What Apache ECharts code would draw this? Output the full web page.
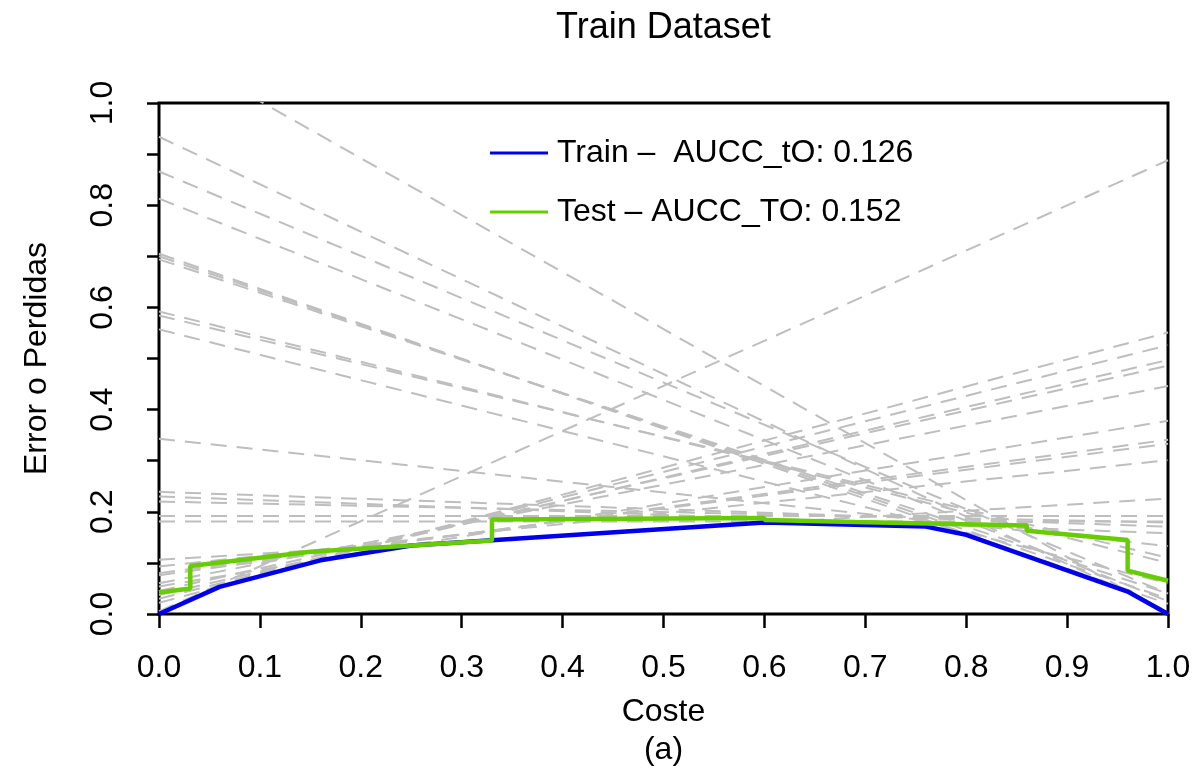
<!DOCTYPE html>
<html>
<head>
<meta charset="utf-8">
<script src="https://cdn.jsdelivr.net/npm/echarts@6/dist/echarts.min.js"></script>
<style>
  html, body { margin: 0; padding: 0; background: #fff; }
  #chart { width: 1197px; height: 768px; }
</style>
</head>
<body>
<div id="chart"></div>
<script>
// Cost lines of the individual classifiers: error at cost 0 and at cost 1
const costLineStart = [1.115, 0.934, 0.866, 0.813, 0.705, 0.700, 0.694, 0.592, 0.584, 0.557,
                       0.343, 0.239, 0.230, 0.220, 0.192, 0.181,
                       0.005, 0.022, 0.030, 0.037, 0.045, 0.060, 0.054, 0.076, 0.080, 0.093, 0.106];
const costLineEnd   = [0.000, 0.005, 0.040, 0.025, 0.020, 0.030, 0.040, 0.100, 0.110, 0.060,
                       0.133, 0.171, 0.158, 0.179, 0.192, 0.181,
                       0.888, 0.551, 0.526, 0.497, 0.486, 0.446, 0.378, 0.341, 0.333, 0.301, 0.226];

// Lower envelope on the training set
const trainCost  = [0.00, 0.06, 0.16, 0.25, 0.60, 0.76, 0.80, 0.96, 1.00];
const trainError = [0.000, 0.053, 0.105, 0.134, 0.179, 0.171, 0.155, 0.044, 0.000];

// Expected cost on the test set (step changes where the chosen classifier switches)
const testCost  = [0.00, 0.031, 0.031, 0.15, 0.15, 0.33, 0.33, 0.60, 0.60, 0.69, 0.69, 0.86, 0.86, 0.96, 0.96, 1.00];
const testError = [0.042, 0.050, 0.094, 0.122, 0.125, 0.144, 0.185, 0.188, 0.184, 0.180, 0.182, 0.173, 0.163, 0.145, 0.085, 0.065];

const trainName = 'Train \u2013  AUCC_tO: 0.126';
const testName  = 'Test \u2013 AUCC_TO: 0.152';
const xTicks = [0, 1, 0.1];
const yTicks = [0, 1, 0.1];

const font = 'Liberation Sans, Arial, Helvetica, sans-serif';

// plot area in pixels
const plotLeft = 159, plotRight = 29, plotTop = 103, plotBottom = 154;
const plotCenterX = plotLeft + (1197 - plotLeft - plotRight) / 2;

const series = [];
costLineStart.forEach((s, i) => {
  series.push({
    type: 'line',
    name: 'cost' + i,
    data: [[0, s], [1, costLineEnd[i]]],
    symbol: 'none',
    silent: true,
    clip: true,
    lineStyle: { color: '#BEBEBE', width: 2, type: [16, 10] },
    z: 1
  });
});
series.push({
  type: 'line',
  name: trainName,
  data: trainCost.map((c, i) => [c, trainError[i]]),
  symbol: 'none',
  color: '#0000EE',
  lineStyle: { color: '#0000EE', width: 4.5 },
  z: 3
});
series.push({
  type: 'line',
  name: testName,
  data: testCost.map((c, i) => [c, testError[i]]),
  symbol: 'none',
  color: '#66CD00',
  lineStyle: { color: '#66CD00', width: 4.5 },
  z: 4
});

const chart = echarts.init(document.getElementById('chart'), null, { renderer: 'canvas' });
chart.setOption({
  animation: false,
  backgroundColor: '#ffffff',
  graphic: [
    { type: 'text', x: plotCenterX, y: 28, silent: true,
      style: { text: 'Train Dataset', textAlign: 'center', textVerticalAlign: 'middle',
               fontFamily: font, fontSize: 36, fill: '#000' } },
    { type: 'text', x: plotCenterX, y: 750, silent: true,
      style: { text: '(a)', textAlign: 'center', textVerticalAlign: 'middle',
               fontFamily: font, fontSize: 32, fill: '#000' } }
  ],
  legend: {
    data: [trainName, testName],
    orient: 'vertical',
    left: 490,
    top: 137,
    padding: 0,
    itemWidth: 58,
    itemHeight: 3,
    itemGap: 27,
    icon: 'rect',
    textStyle: { fontFamily: font, fontSize: 32, color: '#000', padding: [0, 0, 0, 4] }
  },
  grid: {
    left: plotLeft, right: plotRight, top: plotTop, bottom: plotBottom,
    show: true, borderColor: '#000', borderWidth: 3, backgroundColor: 'transparent'
  },
  xAxis: {
    type: 'value',
    min: xTicks[0], max: xTicks[1], interval: xTicks[2],
    name: 'Coste',
    nameLocation: 'middle',
    nameGap: 82,
    nameTextStyle: { fontFamily: font, fontSize: 32, color: '#000' },
    axisLine: { show: false },
    axisTick: { show: true, length: 14, lineStyle: { color: '#000', width: 2.5 } },
    axisLabel: { fontFamily: font, fontSize: 32, color: '#000', margin: 38,
      formatter: v => v.toFixed(1) },
    splitLine: { show: false }
  },
  yAxis: {
    type: 'value',
    min: yTicks[0], max: yTicks[1], interval: yTicks[2],
    name: 'Error o Perdidas',
    nameLocation: 'middle',
    nameRotate: 90,
    nameGap: 106,
    nameTextStyle: { fontFamily: font, fontSize: 32, color: '#000' },
    axisLine: { show: false },
    axisTick: { show: true, length: 12, lineStyle: { color: '#000', width: 2.5 } },
    axisLabel: { fontFamily: font, fontSize: 32, color: '#000', rotate: 90, margin: 40,
      showMinLabel: true, showMaxLabel: true,
      formatter: v => (Math.round(v * 10) % 2 === 0 ? v.toFixed(1) : '') },
    splitLine: { show: false }
  },
  series: series
});
</script>
</body>
</html>
